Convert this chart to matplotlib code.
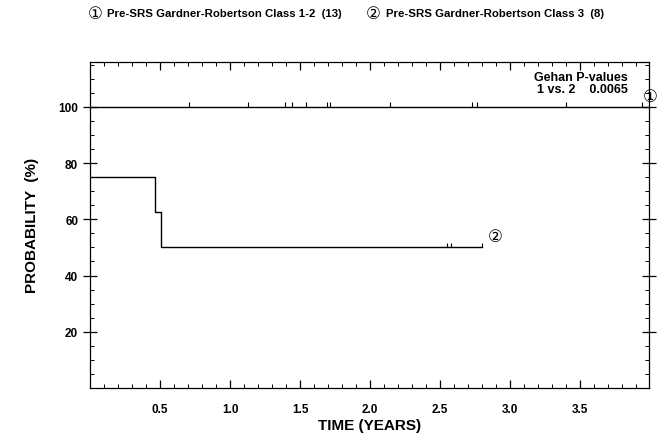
import numpy as np
import matplotlib.pyplot as plt
from matplotlib.ticker import MultipleLocator, FixedLocator

plt.rcParams['font.family'] = ['Liberation Sans', 'DejaVu Sans']

""" Data read from the figure """

# group 1: Class 1-2, stays at 100%
g1Times = [0.0, 4.0]
g1Probs = [100.0, 100.0]
g1Censor = [0.71, 1.13, 1.39, 1.44, 1.54, 1.69, 1.71, 2.14, 2.73, 2.76, 3.40, 3.94]

# group 2: Class 3, step curve
g2Times = [0.0, 0.466, 0.505, 2.80]
g2Probs = [75.0, 62.5, 50.0, 50.0]
g2Censor = [2.55, 2.58, 2.80]

legendLabels = ['Pre-SRS Gardner-Robertson Class 1-2  (13)', 'Pre-SRS Gardner-Robertson Class 3  (8)']
xTicks = [0.5, 1.0, 1.5, 2.0, 2.5, 3.0, 3.5]
yTicks = [20, 40, 60, 80, 100]

""" Plot """

fig = plt.figure(figsize=(6.59, 4.39), dpi=100)
ax = fig.add_axes([0.1366, 0.1139, 0.848, 0.743])

ax.step(g1Times, g1Probs, where='post', color='k', linewidth=1.0)
ax.step(g2Times, g2Probs, where='post', color='k', linewidth=1.0)
ax.vlines(g1Censor, 100, 101.6, color='k', linewidth=0.8)
ax.vlines(g2Censor, 50, 51.6, color='k', linewidth=0.8)

ax.set_xlim(0, 3.99)
ax.set_ylim(0, 116)
ax.xaxis.set_major_locator(FixedLocator(xTicks))
ax.xaxis.set_minor_locator(MultipleLocator(0.1))
ax.yaxis.set_major_locator(FixedLocator(yTicks))
ax.yaxis.set_minor_locator(MultipleLocator(5))
ax.tick_params(axis='both', which='major', direction='in', length=6, width=0.9,
               top=True, right=True, labelsize=8.5)
ax.tick_params(axis='y', which='major', direction='inout', length=10)
ax.tick_params(axis='both', which='minor', direction='in', length=3, width=0.7,
               top=True, right=True)
for lab in ax.get_xticklabels() + ax.get_yticklabels():
    lab.set_fontweight('bold')
ax.tick_params(axis='x', pad=11)
for sp in ax.spines.values():
    sp.set_linewidth(0.9)

ax.set_xlabel('TIME (YEARS)', fontsize=11, fontweight='bold', labelpad=2)
ax.set_ylabel('PROBABILITY  (%)', fontsize=11, fontweight='bold', labelpad=14)

ax.text(3.84, 110.5, 'Gehan P-values', ha='right', va='center', fontsize=9, fontweight='bold')
ax.text(3.84, 106.2, '1 vs. 2    0.0065', ha='right', va='center', fontsize=9, fontweight='bold')
ax.text(4.0, 104.0, '\u2460', ha='center', va='center', fontsize=12, family=['DejaVu Sans'])
ax.text(2.89, 54.0, '\u2461', ha='center', va='center', fontsize=12, family=['DejaVu Sans'])

fig.text(0.145, 0.968, '\u2460', ha='center', va='center', fontsize=12, family=['DejaVu Sans'])
fig.text(0.163, 0.968, legendLabels[0], ha='left', va='center', fontsize=8.2, fontweight='bold')
fig.text(0.567, 0.968, '\u2461', ha='center', va='center', fontsize=12, family=['DejaVu Sans'])
fig.text(0.586, 0.968, legendLabels[1], ha='left', va='center', fontsize=8.2, fontweight='bold')

plt.savefig('out.png', dpi=100)
